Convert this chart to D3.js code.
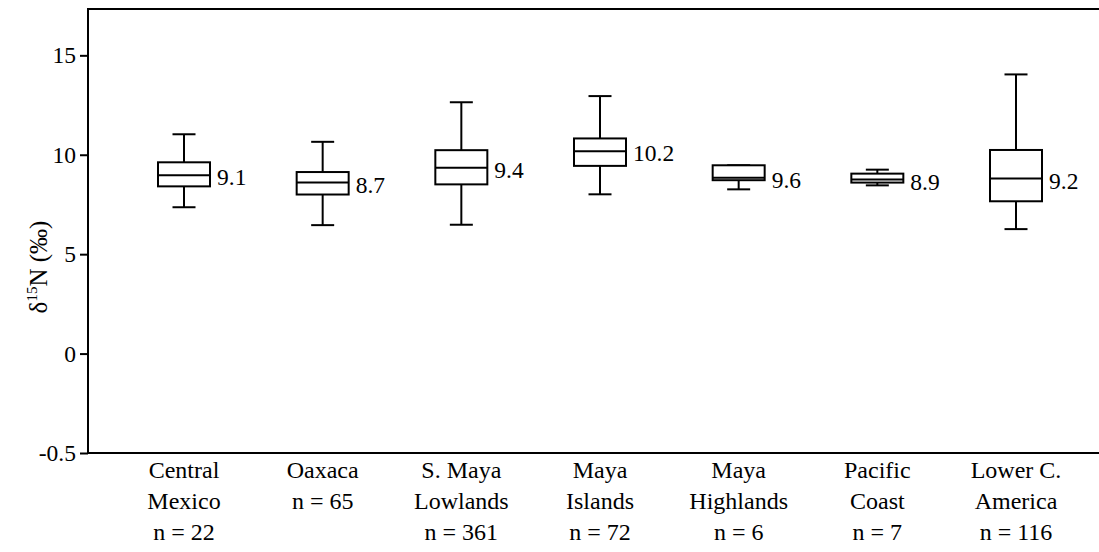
<!DOCTYPE html>
<html><head><meta charset="utf-8">
<script src="https://cdn.jsdelivr.net/npm/d3@7"></script>
<style>body{margin:0;background:#fff;}</style>
</head><body>
<svg id="c" width="1099" height="552"></svg>
<script>
const categories = ["Central Mexico","Oaxaca","S. Maya Lowlands","Maya Islands","Maya Highlands","Pacific Coast","Lower C. America"];
const labelLines = [["Central","Mexico","n = 22"],["Oaxaca","n = 65"],["S. Maya","Lowlands","n = 361"],["Maya","Islands","n = 72"],["Maya","Highlands","n = 6"],["Pacific","Coast","n = 7"],["Lower C.","America","n = 116"]];
const whiskerHigh = [11.03, 10.65, 12.64, 12.95, 9.47, 9.25, 14.04];
const q3 = [9.62, 9.13, 10.23, 10.82, 9.47, 9.05, 10.24];
const median = [8.97, 8.60, 9.35, 10.18, 8.84, 8.75, 8.80];
const q1 = [8.41, 8.00, 8.51, 9.44, 8.72, 8.60, 7.66];
const whiskerLow = [7.36, 6.46, 6.48, 8.01, 8.26, 8.46, 6.26];
const meanLabels = ["9.1","8.7","9.4","10.2","9.6","8.9","9.2"];
const yTickValues = [15, 10, 5, 0, -5];
const yTickLabels = ["15","10","5","0","-0.5"];

const svg = d3.select("#c").attr("font-family", "Liberation Serif");
const FONT = '"Liberation Serif"';
const mL = 88, mT = 9, mB = 453, mR = 1099;

const y = d3.scaleLinear().domain([-5, 17.33]).range([mB, mT]);
const x = d3.scalePoint().domain(categories).range([184, 1016]);

svg.append("line").attr("x1", mL).attr("x2", mR).attr("y1", mT).attr("y2", mT)
  .attr("stroke", "#000").attr("stroke-width", 2);
svg.append("line").attr("x1", mL).attr("x2", mR).attr("y1", mB).attr("y2", mB)
  .attr("stroke", "#000").attr("stroke-width", 2);

const yAxis = d3.axisLeft(y).tickValues(yTickValues)
  .tickFormat((d, i) => yTickLabels[i]).tickSize(8).tickPadding(4);
const ga = svg.append("g").attr("transform", `translate(${mL},0)`).call(yAxis);
ga.attr("font-family", "Liberation Serif").attr("font-size", 23.5);
ga.select(".domain").attr("stroke-width", 2).attr("d", `M0,${mT - 1}V${mB + 1}`);
ga.selectAll(".tick line").attr("stroke-width", 2);
ga.selectAll(".tick text").style("font-family", FONT).attr("fill", "#000");

const title = svg.append("text").attr("transform", "translate(47,267) rotate(-90)")
  .attr("text-anchor", "middle").style("font-family", FONT).attr("font-size", 25).attr("fill", "#000");
title.append("tspan").style("font-family", FONT).text("δ");
title.append("tspan").style("font-family", FONT).attr("font-size", 15).attr("dy", -10).text("15");
title.append("tspan").style("font-family", FONT).attr("dy", 10).text("N (‰)");

const boxW = 52, capW = 23;
const line = (x1, y1, x2, y2) => svg.append("line").attr("x1", x1).attr("y1", y1).attr("x2", x2).attr("y2", y2)
  .attr("stroke", "#000").attr("stroke-width", 2);
categories.forEach((c, i) => {
  const cx = x(c);
  line(cx, y(whiskerHigh[i]), cx, y(q3[i]));
  line(cx, y(q1[i]), cx, y(whiskerLow[i]));
  line(cx - capW / 2, y(whiskerHigh[i]), cx + capW / 2, y(whiskerHigh[i]));
  line(cx - capW / 2, y(whiskerLow[i]), cx + capW / 2, y(whiskerLow[i]));
  svg.append("rect").attr("x", cx - boxW / 2).attr("y", y(q3[i])).attr("width", boxW)
    .attr("height", y(q1[i]) - y(q3[i])).attr("fill", "#fff").attr("stroke", "#000").attr("stroke-width", 2);
  line(cx - boxW / 2, y(median[i]), cx + boxW / 2, y(median[i]));
  svg.append("text").attr("x", cx + boxW / 2 + 7).attr("y", y(median[i]) + 10)
    .style("font-family", FONT).attr("font-size", 23.5).attr("fill", "#000").text(meanLabels[i]);
  labelLines[i].forEach((ln, j) => {
    svg.append("text").attr("x", cx).attr("y", 478 + j * 31).attr("text-anchor", "middle")
      .style("font-family", FONT).attr("font-size", 24).attr("fill", "#000").text(ln);
  });
});
</script>
</body></html>
